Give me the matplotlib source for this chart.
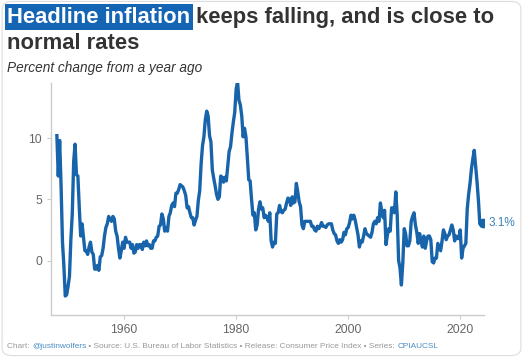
import numpy as np
import pandas as pd
import matplotlib
matplotlib.use("Agg")
import matplotlib.pyplot as plt
from matplotlib.patches import FancyBboxPatch

plt.rcParams['font.family'] = ['Liberation Sans', 'DejaVu Sans']

# CPI inflation, percent change from a year ago, quarterly readings (Q1 1948 .. Q1 2024)
start = '1948-01-01'
cpi_yoy = [
    10.2, 6.9, 9.8, 6.1,   # 1948
    1.5, -0.4, -2.9, -2.8,  # 1949
    -2.1, -1.3, 1.7, 3.8,  # 1950
    8.1, 9.5, 7.0, 6.9,    # 1951
    4.3, 2.0, 3.0, 1.9,    # 1952
    0.8, 0.8, 0.5, 1.1,    # 1953
    1.5, 0.7, 0.5, -0.7,   # 1954
    -0.7, -0.4, -0.8, 0.3,  # 1955
    0.4, 1.0, 2.0, 2.7,    # 1956
    3.0, 3.6, 3.4, 3.2,    # 1957
    3.6, 3.4, 2.4, 2.0,    # 1958
    1.0, 0.2, 0.8, 1.5,    # 1959
    1.0, 1.9, 1.5, 1.5,    # 1960
    1.5, 1.0, 1.3, 0.6,    # 1961
    0.7, 1.3, 1.0, 1.3,    # 1962
    1.3, 0.9, 1.5, 1.2,    # 1963
    1.6, 1.2, 1.3, 1.0,    # 1964
    1.0, 1.6, 1.6, 1.9,    # 1965
    2.0, 2.8, 2.9, 3.8,    # 1966
    3.4, 2.4, 2.7, 2.4,    # 1967
    3.6, 3.9, 4.5, 4.7,    # 1968
    4.4, 5.5, 5.5, 5.8,    # 1969
    6.2, 6.1, 6.0, 5.7,    # 1970
    5.3, 4.3, 4.4, 3.9,    # 1971
    3.5, 3.5, 2.9, 3.3,    # 1972
    3.6, 4.9, 5.7, 7.9,    # 1973
    9.4, 10.1, 11.5, 12.2,  # 1974
    11.8, 10.2, 9.7, 7.4,  # 1975
    6.7, 6.1, 5.4, 5.0,    # 1976
    5.2, 6.9, 6.8, 6.4,    # 1977
    6.8, 6.5, 7.7, 8.9,    # 1978
    9.3, 10.4, 11.3, 12.1,  # 1979
    14.0, 14.6, 13.1, 12.7,  # 1980
    11.8, 10.1, 10.8, 10.1,  # 1981
    8.4, 6.6, 6.5, 5.0,    # 1982
    3.7, 3.9, 2.5, 2.9,    # 1983
    4.2, 4.8, 4.2, 4.3,    # 1984
    3.5, 3.7, 3.5, 3.2,    # 1985
    3.9, 1.6, 1.1, 1.5,    # 1986
    1.4, 3.8, 3.9, 4.5,    # 1987
    4.0, 3.9, 4.1, 4.2,    # 1988
    4.7, 5.1, 5.0, 4.5,    # 1989
    5.2, 4.7, 4.8, 6.3,    # 1990
    5.6, 4.8, 4.4, 2.9,    # 1991
    2.6, 3.2, 3.2, 3.2,    # 1992
    3.2, 3.2, 2.8, 2.8,    # 1993
    2.5, 2.4, 2.8, 2.6,    # 1994
    2.8, 3.1, 2.8, 2.8,    # 1995
    2.7, 2.9, 3.0, 3.0,    # 1996
    3.0, 2.5, 2.2, 2.1,    # 1997
    1.6, 1.4, 1.7, 1.5,    # 1998
    1.7, 2.3, 2.1, 2.6,    # 1999
    2.7, 3.1, 3.7, 3.4,    # 2000
    3.7, 3.3, 2.7, 2.1,    # 2001
    1.1, 1.6, 1.5, 2.0,    # 2002
    2.6, 2.2, 2.1, 2.0,    # 2003
    1.9, 2.3, 3.0, 3.2,    # 2004
    3.0, 3.5, 3.2, 4.7,    # 2005
    4.0, 3.5, 4.1, 1.3,    # 2006
    2.1, 2.6, 2.4, 4.3,    # 2007
    4.3, 3.9, 5.6, 3.7,    # 2008
    0.0, -0.6, -2.0, -0.2,  # 2009
    2.6, 2.2, 1.2, 1.2,    # 2010
    1.6, 3.2, 3.6, 3.9,    # 2011
    2.9, 2.3, 1.4, 2.2,    # 2012
    1.6, 1.1, 2.0, 1.0,    # 2013
    1.6, 2.0, 2.0, 1.7,    # 2014
    -0.1, -0.2, 0.2, 0.2,  # 2015
    1.4, 1.1, 0.8, 1.6,    # 2016
    2.5, 2.2, 1.7, 2.0,    # 2017
    2.1, 2.5, 2.9, 2.5,    # 2018
    1.6, 2.0, 1.8, 1.8,    # 2019
    2.5, 0.2, 1.0, 1.2,    # 2020
    1.4, 4.2, 5.4, 6.3,    # 2021
    7.5, 8.3, 9.0, 7.7,    # 2022
    6.4, 4.9, 3.0, 3.2,    # 2023
    3.1,                   # 2024
]
x_ticks = [1960, 1980, 2000, 2020]
y_ticks = [0, 5, 10]

dates = pd.date_range(start, periods=len(cpi_yoy), freq='QS')
years = dates.year + (dates.dayofyear - 1) / 365.25

line_col = '#1764ab'
grey = '#666666'

fig = plt.figure(figsize=(5.23, 3.57), dpi=100)

# card outline (behind everything)
card = FancyBboxPatch((0.004, 0.004), 0.992, 0.992, boxstyle='round,pad=0,rounding_size=0.02',
                      transform=fig.transFigure, facecolor='none', edgecolor='#dddddd',
                      lw=0.8, zorder=-10)
fig.patches.append(card)

ax = fig.add_axes([0.0975, 0.1176, 0.8275, 0.65])
ax.patch.set_alpha(0)
ax.plot(years, cpi_yoy, color=line_col, lw=2.4, solid_joinstyle='round')
ax.plot(years[-1], cpi_yoy[-1], 'o', color=line_col, ms=6)
ax.annotate(f'{cpi_yoy[-1]:.1f}%', xy=(years[-1], cpi_yoy[-1]), xytext=(4, 0),
            textcoords='offset points', va='center', ha='left', color='#3a80b8', fontsize=8.5,
            annotation_clip=False)

ax.set_xlim(1946.95, 2024.2)
ax.set_ylim(-4.45, 14.5)
ax.set_xticks(x_ticks)
ax.set_yticks(y_ticks)
for s in ['top', 'right']:
    ax.spines[s].set_visible(False)
for s in ['left', 'bottom']:
    ax.spines[s].set_color('#cccccc')
    ax.spines[s].set_linewidth(1.0)
ax.tick_params(colors='#cccccc', labelcolor=grey, labelsize=8.7, length=3, width=0.8)

# title with highlighted lead-in
t1 = fig.text(0.014, 0.922, 'Headline inflation', fontsize=15.8, fontweight='bold', color='white',
              va='bottom', bbox=dict(boxstyle='square,pad=0.12', fc='#1565b5', ec='none'))
ax.annotate(' keeps falling, and is close to', xy=(1, 0), xycoords=t1, fontsize=15.8,
            fontweight='bold', color='#333333', va='bottom', ha='left', annotation_clip=False)
fig.text(0.014, 0.848, 'normal rates', fontsize=15.8, fontweight='bold', color='#333333', va='bottom')
fig.text(0.014, 0.79, 'Percent change from a year ago', fontsize=9.8, style='italic',
         color='#333333', va='bottom')

# footer
foot_parts = [('Chart: ', '#999999'), ('@justinwolfers', '#4a8cc4'),
              (' \u2022 Source: U.S. Bureau of Labor Statistics \u2022 Release: Consumer Price Index'
               ' \u2022 Series: ', '#999999'), ('CPIAUCSL', '#4a8cc4')]
prev = fig.text(0.014, 0.02, foot_parts[0][0], fontsize=5.95, color=foot_parts[0][1], va='bottom')
for txt, col in foot_parts[1:]:
    prev = ax.annotate(txt, xy=(1, 0), xycoords=prev, fontsize=5.95, color=col,
                       va='bottom', ha='left', annotation_clip=False)

fig.savefig('out.png', dpi=100)
